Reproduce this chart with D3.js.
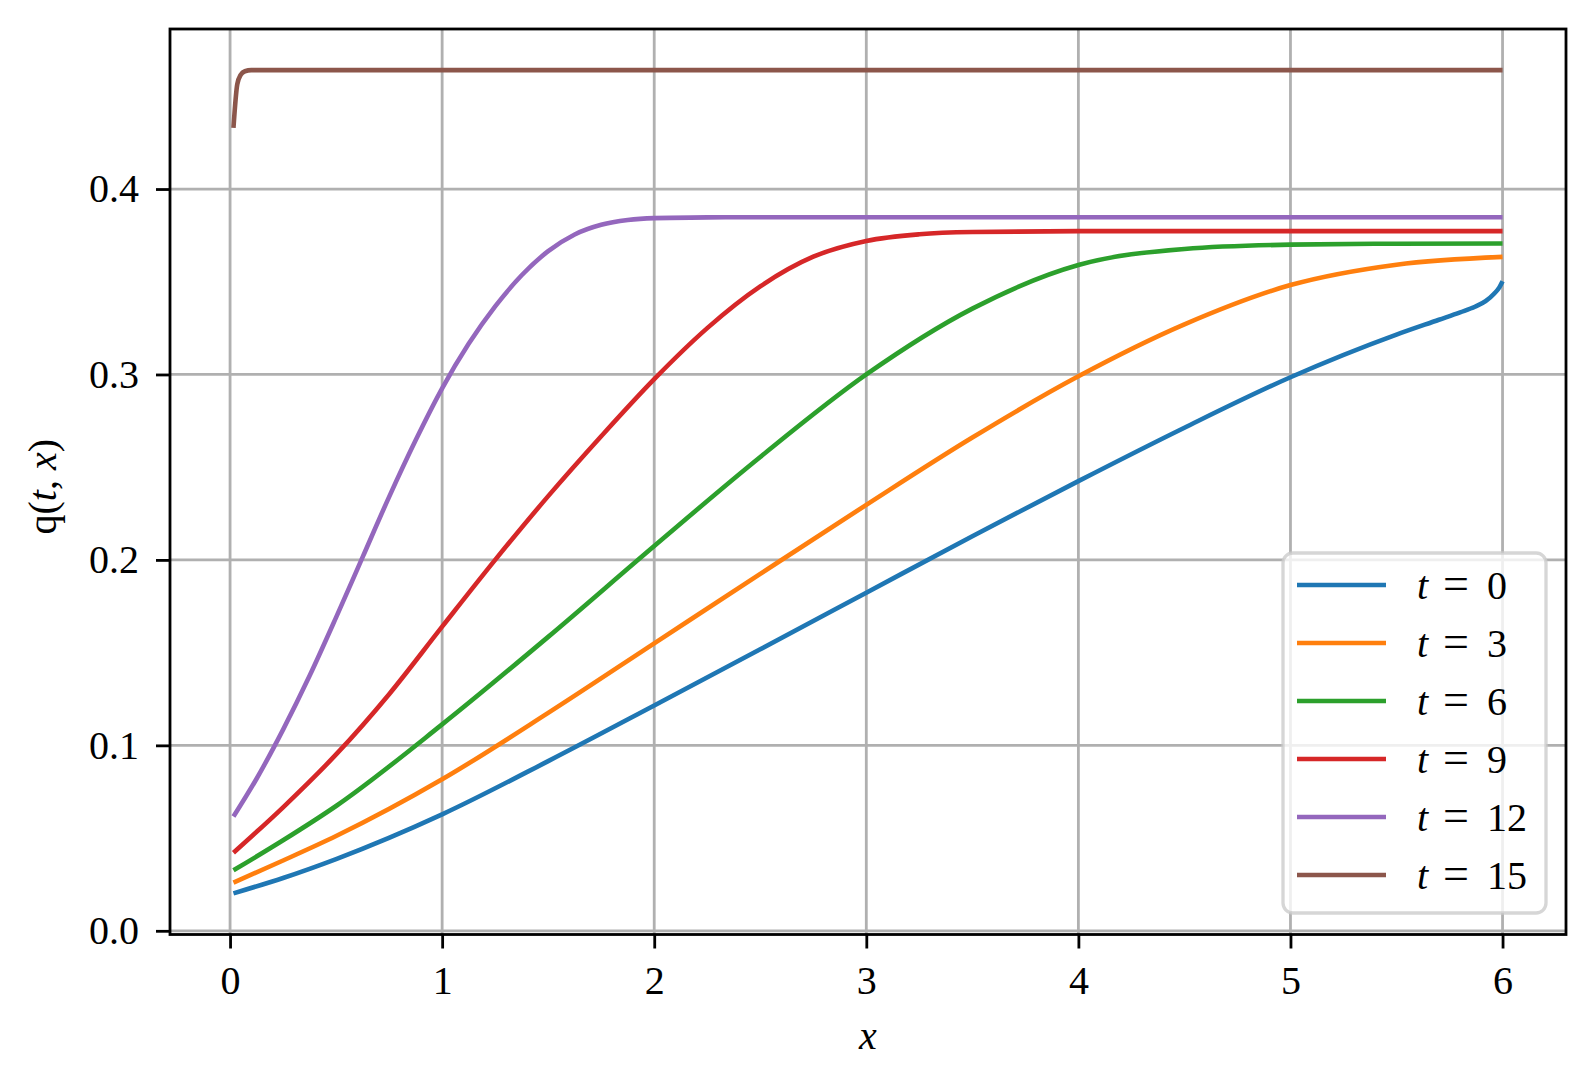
<!DOCTYPE html>
<html>
<head>
<meta charset="utf-8">
<script src="https://cdn.jsdelivr.net/npm/d3@7"></script>
<style>
  html, body { margin: 0; padding: 0; background: #fff; }
  svg { display: block; }
  text { font-family: "Liberation Serif", "DejaVu Serif", serif; fill: #000; }
</style>
</head>
<body>
<svg id="chart" width="1595" height="1085"></svg>
<script>
// ---------------- data ----------------
const seriesLabels = ["0", "3", "6", "9", "12", "15"];
const seriesColors = ["#1f77b4", "#ff7f0e", "#2ca02c", "#d62728", "#9467bd", "#8c564b"];

const x_t0  = [0.016, 0.25, 0.5, 1, 1.5, 2, 2.5, 3, 3.5, 4, 4.5, 5, 5.5, 5.7, 5.8, 5.87, 5.92, 5.96, 5.985, 6];
const q_t0  = [0.0202, 0.0285, 0.0387, 0.0628, 0.0915, 0.1215, 0.1518, 0.1823, 0.2128, 0.2425, 0.2713, 0.2985, 0.3215, 0.3295, 0.3335, 0.3365, 0.3395, 0.3435, 0.347, 0.3503];

const x_t3  = [0.016, 0.25, 0.5, 1, 1.5, 2, 2.5, 3, 3.5, 4, 4.5, 5, 5.5, 6];
const q_t3  = [0.026, 0.0379, 0.0511, 0.0817, 0.1175, 0.1550, 0.1925, 0.2297, 0.2660, 0.2990, 0.3270, 0.3482, 0.3592, 0.3634];

const x_t6  = [0.016, 0.25, 0.5, 1, 1.5, 2, 2.5, 3, 3.5, 4, 4.5, 5, 5.5, 6];
const q_t6  = [0.0326, 0.0488, 0.0673, 0.1113, 0.1585, 0.2075, 0.2555, 0.3000, 0.3355, 0.3590, 0.3677, 0.3700, 0.3705, 0.3706];

const x_t9  = [0.016, 0.25, 0.5, 0.75, 1, 1.25, 1.5, 1.75, 2, 2.25, 2.5, 2.75, 3, 3.25, 3.5, 4, 5, 6];
const q_t9  = [0.0421, 0.0666, 0.0951, 0.1276, 0.164, 0.200, 0.2344, 0.2667, 0.2975, 0.3250, 0.3475, 0.3635, 0.3720, 0.3756, 0.3768, 0.3773, 0.3773, 0.3773];

const x_t12 = [0.016, 0.125, 0.25, 0.375, 0.5, 0.625, 0.75, 0.875, 1, 1.125, 1.25, 1.375, 1.5, 1.625, 1.75, 1.875, 2, 2.25, 2.5, 6];
const q_t12 = [0.0616, 0.082, 0.1085, 0.1375, 0.1690, 0.2015, 0.2340, 0.2645, 0.2925, 0.3165, 0.3367, 0.3535, 0.3665, 0.3755, 0.3807, 0.3833, 0.3843, 0.3847, 0.3848, 0.3848];

const x_t15 = [0.016, 0.034, 0.05, 0.07, 0.1, 6];
const q_t15 = [0.433, 0.4565, 0.4615, 0.4635, 0.4641, 0.4641];

const xTicks = [0, 1, 2, 3, 4, 5, 6];
const xTickLabels = ["0", "1", "2", "3", "4", "5", "6"];
const yTicks = [0.0, 0.1, 0.2, 0.3, 0.4];
const yTickLabels = ["0.0", "0.1", "0.2", "0.3", "0.4"];

// ---------------- layout ----------------
const xsList = [x_t0, x_t3, x_t6, x_t9, x_t12, x_t15];
const qsList = [q_t0, q_t3, q_t6, q_t9, q_t12, q_t15];
const series = seriesLabels.map((lab, i) => ({
  label: lab,
  color: seriesColors[i],
  points: xsList[i].map((x, j) => ({ x: x, y: qsList[i][j] }))
}));

const W = 1595, H = 1085;
const margin = { left: 170, top: 29, right: W - 1566, bottom: H - 934.5 };
const iw = W - margin.left - margin.right;
const ih = H - margin.top - margin.bottom;

const allX = series.flatMap(s => s.points.map(p => p.x));
const allY = series.flatMap(s => s.points.map(p => p.y));
const [x0, x1] = d3.extent(allX);
const [y0, y1] = d3.extent(allY);
const px = (x1 - x0) * 0.05, py = (y1 - y0) * 0.05;

const x = d3.scaleLinear().domain([x0 - px, x1 + px]).range([0, iw]);
const y = d3.scaleLinear().domain([y0 - py, y1 + py]).range([ih, 0]);

const svg = d3.select("#chart");
const g = svg.append("g").attr("transform", `translate(${margin.left},${margin.top})`);

const clipId = "plotclip";
svg.append("defs").append("clipPath").attr("id", clipId)
  .append("rect").attr("width", iw).attr("height", ih);

// grid
const grid = g.append("g").attr("clip-path", `url(#${clipId})`);
grid.selectAll("line.gx").data(xTicks).enter().append("line")
  .attr("x1", d => x(d)).attr("x2", d => x(d))
  .attr("y1", 0).attr("y2", ih)
  .attr("stroke", "#b0b0b0").attr("stroke-width", 2.8);
grid.selectAll("line.gy").data(yTicks).enter().append("line")
  .attr("y1", d => y(d)).attr("y2", d => y(d))
  .attr("x1", 0).attr("x2", iw)
  .attr("stroke", "#b0b0b0").attr("stroke-width", 2.8);

// lines
const line = d3.line().x(d => x(d.x)).y(d => y(d.y)).curve(d3.curveMonotoneX);
g.append("g").attr("clip-path", `url(#${clipId})`)
  .selectAll("path").data(series).enter().append("path")
  .attr("d", d => line(d.points))
  .attr("fill", "none")
  .attr("stroke", d => d.color)
  .attr("stroke-width", 4.6)
  .attr("stroke-linejoin", "round");

// axes
const fontSize = 40;
const xAxis = d3.axisBottom(x).tickValues(xTicks)
  .tickFormat((d, i) => xTickLabels[i]).tickSize(14).tickSizeOuter(0).tickPadding(17);
const yAxis = d3.axisLeft(y).tickValues(yTicks)
  .tickFormat((d, i) => yTickLabels[i]).tickSize(14).tickSizeOuter(0).tickPadding(17);

const gx = g.append("g").attr("transform", `translate(0,${ih})`).call(xAxis);
const gy = g.append("g").call(yAxis);
[gx, gy].forEach(a => {
  a.select(".domain").remove();
  a.selectAll(".tick line").attr("stroke", "#000").attr("stroke-width", 2.8);
  a.selectAll(".tick text")
    .attr("font-family", '"Liberation Serif", serif')
    .attr("font-size", fontSize).attr("fill", "#000");
});

// spines
g.append("rect").attr("x", 0).attr("y", 0).attr("width", iw).attr("height", ih)
  .attr("fill", "none").attr("stroke", "#000").attr("stroke-width", 2.8);

// axis labels
svg.append("text")
  .attr("x", margin.left + iw / 2).attr("y", 1049)
  .attr("text-anchor", "middle").attr("font-size", fontSize)
  .attr("font-style", "italic").text("x");

const yl = svg.append("text")
  .attr("transform", `translate(56,${margin.top + ih / 2 + 5}) rotate(-90)`)
  .attr("text-anchor", "middle").attr("font-size", fontSize);
yl.append("tspan").text("q(");
yl.append("tspan").attr("font-style", "italic").text("t");
yl.append("tspan").text(", ");
yl.append("tspan").attr("font-style", "italic").text("x");
yl.append("tspan").text(")");

// legend
const lg = svg.append("g").attr("transform", "translate(1283,553)");
lg.append("rect").attr("x", 0).attr("y", 0).attr("width", 263).attr("height", 360)
  .attr("rx", 10).attr("ry", 10)
  .attr("fill", "rgba(255,255,255,0.8)")
  .attr("stroke", "rgba(204,204,204,0.8)").attr("stroke-width", 3.3);
const items = lg.selectAll("g.item").data(series).enter().append("g")
  .attr("transform", (d, i) => `translate(0,${32 + i * 58})`);
items.append("line").attr("x1", 14).attr("x2", 103).attr("y1", 0).attr("y2", 0)
  .attr("stroke", d => d.color).attr("stroke-width", 4.6);
const lt = items.append("text").attr("y", 14).attr("font-size", fontSize);
lt.append("tspan").attr("x", 134).attr("font-style", "italic").text("t");
lt.append("tspan").attr("x", 160).attr("font-size", 46).text("=");
lt.append("tspan").attr("x", 204).text(d => d.label);
</script>
</body>
</html>
